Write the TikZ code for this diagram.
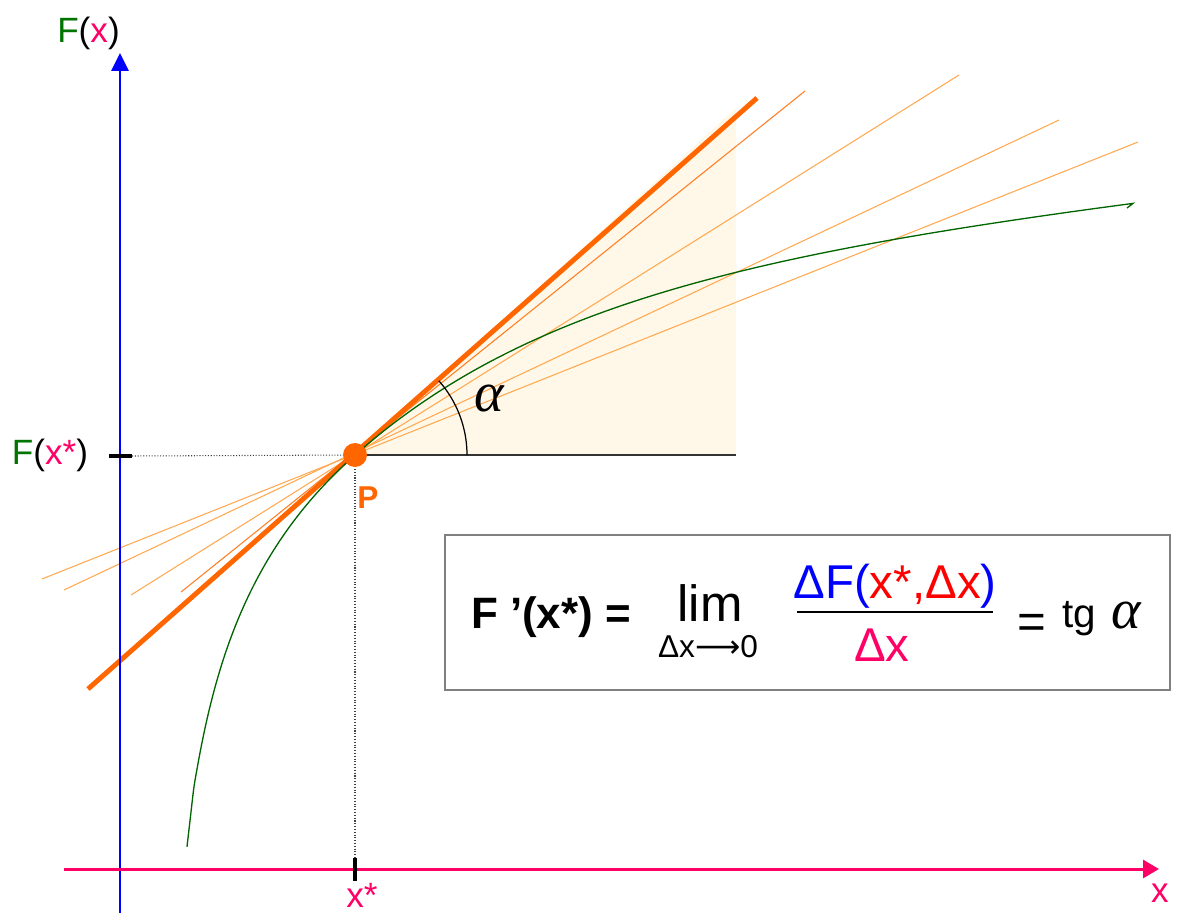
\documentclass[tikz,border=0pt]{standalone}
\usepackage{fontspec}
\setmainfont{Liberation Sans}
\newfontfamily\alphafont{Liberation Serif}
\newfontfamily\arrowfont{DejaVu Sans}
\usepackage{tikz}
\usetikzlibrary{positioning,arrows.meta}
\definecolor{axisblue}{RGB}{0,0,255}
\definecolor{axispink}{RGB}{255,0,102}
\definecolor{labgreen}{RGB}{0,115,0}
\definecolor{curvegreen}{RGB}{0,100,0}
\definecolor{tangorange}{RGB}{255,102,0}
\definecolor{secorange}{RGB}{255,168,80}
\definecolor{secdark}{RGB}{255,125,35}
\definecolor{shadefill}{RGB}{255,248,232}
\tikzset{
  yaxis/.style={draw=axisblue, line width=1.7pt, -{Triangle[length=3.6mm, width=3.4mm]}},
  xaxis/.style={draw=axispink, line width=1.7pt, -{Triangle[length=3.2mm, width=3.6mm]}},
  tangent/.style={draw=tangorange, line width=2.8pt},
  secant/.style={draw=secorange, line width=0.6pt},
  curve/.style={draw=curvegreen, line width=0.75pt},
  tickmark/.style={draw=black, line width=2.7pt},
  guide/.style={draw=black!75, densely dotted, line width=0.6pt},
  pointdot/.style={circle, fill=tangorange, minimum size=0.48cm, inner sep=0pt},
  axislabel/.style={font=\fontsize{20}{22}\selectfont, inner sep=0pt, anchor=base},
  formulabox/.style={draw=black!50, line width=0.7pt, fill=white, inner sep=0pt, minimum width=14.5cm, minimum height=3.1cm},
  formtext/.style={inner sep=0pt, anchor=base}
}

\begin{document}
\begin{tikzpicture}[x=0.02cm, y=-0.02cm, >=Latex]
  \useasboundingbox (0,0) rectangle (1177,913);
  \coordinate (Pc) at (355,455);
  \coordinate (hr) at (736,455);
  \coordinate (sh) at (736,108);
  \fill[shadefill] (Pc) -- (hr) -- (sh) -- cycle;
  \coordinate (s1a) at (42,579);  \coordinate (s1b) at (1138,142);
  \coordinate (s2a) at (64,590);  \coordinate (s2b) at (1059,120);
  \coordinate (s3a) at (131,595); \coordinate (s3b) at (959,75);
  \coordinate (s4a) at (181,592); \coordinate (s4b) at (805,91);
  \draw[secant] (s1a) -- (s1b);
  \draw[secant] (s2a) -- (s2b);
  \draw[secant] (s3a) -- (s3b);
  \draw[secant, draw=secdark] (s4a) -- (s4b);
  \coordinate (ta) at (88,689);
  \coordinate (tb) at (757,98);
  \draw[tangent] (ta) -- (tb);
  \draw[curve] plot[domain=187:355, samples=50, smooth] (\x, {455-164.3*ln((\x-170)/185)})
    -- plot[domain=355:1133, samples=60, smooth] (\x, {455-171*(1-exp(-(\x-355)/220))-0.11*(\x-355)})
    -- (1127,208);
  \draw[black!80, line width=0.7pt] (Pc) -- (hr);
  \draw[black, line width=0.7pt] (467,455) arc[start angle=0, end angle=-41.5, radius=112];
  \node[font=\alphafont\itshape\fontsize{32}{32}\selectfont, inner sep=0pt] (alpha) at (489,399) {α};
  % axes and ticks
  \coordinate (yb) at (120,913); \coordinate (yt) at (120,53);
  \coordinate (xb) at (64,869);  \coordinate (xt) at (1159,869);
  \coordinate (ytl) at (109,456); \coordinate (ytr) at (132,456);
  \coordinate (xtt) at (355,858); \coordinate (xtb) at (355,881);
  \draw[guide] (ytr) -- (Pc);
  \draw[guide] (Pc) -- (xtt);
  \draw[yaxis] (yb) -- (yt);
  \draw[xaxis] (xb) -- (xt);
  \draw[tickmark] (ytl) -- (ytr);
  \draw[tickmark] (xtt) -- (xtb);
  \node[pointdot] (P) at (Pc) {};
  \node[font=\bfseries\fontsize{18}{20}\selectfont, text=tangorange, inner sep=0pt, anchor=base] (Plab) at (368,508) {P};
  \node[axislabel] (Fx) at (88.5,42) {\textcolor{labgreen}{F}(\textcolor{axispink}{x})};
  \node[axislabel] (Fxs) at (50,464) {\textcolor{labgreen}{F}(\textcolor{axispink}{x*})};
  \node[axislabel, text=axispink] (xs) at (362,907) {x*};
  \node[axislabel, text=axispink] (xl) at (1160,902) {x};
  % formula
  \node[formulabox] (fbox) at (807.5,612.5) {};
  \node[formtext, font=\bfseries\fontsize{25}{25}\selectfont] (lhs) at (551,628) {F ’(x*) =};
  \node[formtext, font=\fontsize{29}{29}\selectfont] (lim) at (710,621) {lim};
  \node[formtext, font=\fontsize{18}{18}\selectfont] (limsub) at (708,657) {Δx{\arrowfont ⟶}0};
  \node[formtext, font=\fontsize{27}{27}\selectfont] (num) at (895,598) {\textcolor{axisblue}{ΔF(}\textcolor{red}{x*,Δx}\textcolor{axisblue}{)}};
  \coordinate (barl) at (797,612); \coordinate (barr) at (993,612);
  \draw[black, line width=0.7pt] (barl) -- (barr);
  \node[formtext, font=\fontsize{27}{27}\selectfont, text=axispink] (den) at (882,661) {Δx};
  \node[inner sep=0pt, font=\fontsize{28}{28}\selectfont] (eq) at (1032,626) {=};
  \node[formtext, anchor=base west, font=\fontsize{23}{23}\selectfont] (tg) at (1062,627) {tg};
  \node[formtext, anchor=base west, font=\alphafont\itshape\fontsize{32}{32}\selectfont] (tga) at (1111,628) {α};
\end{tikzpicture}
\end{document}
